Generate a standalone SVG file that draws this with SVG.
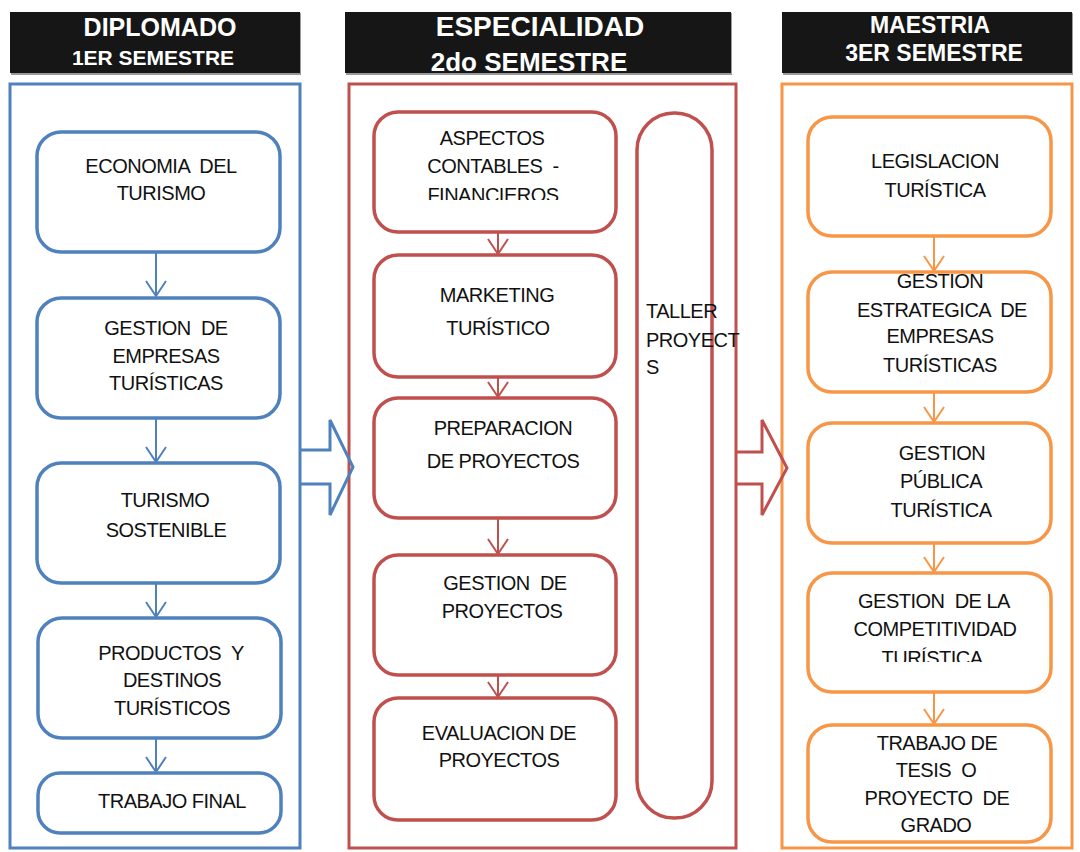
<svg xmlns="http://www.w3.org/2000/svg" width="1080" height="852" viewBox="0 0 1080 852">
<style>
.hdr{fill:#161616}
.hsh{fill:#9a9a9a}
.ht{fill:#fff;font-family:"Liberation Sans",Arial,sans-serif;font-weight:bold;text-anchor:middle}
.t{fill:#111;font-family:"Liberation Sans",Arial,sans-serif;font-size:20px;letter-spacing:-0.5px;text-anchor:middle;white-space:pre}
.tl{text-anchor:start}
.ob{fill:none;stroke-width:3}
.nd{fill:#fff;stroke-width:3.5}
.b{stroke:#4F81BD}
.r{stroke:#C0504D}
.o{stroke:#F79646}
.cn{fill:none;stroke-width:2}
.big{fill:none;stroke-width:3;stroke-linejoin:miter}
</style>
<defs>
<marker id="mb" viewBox="-16 -11 18 22" markerWidth="18" markerHeight="22" refX="0" refY="0" orient="auto" markerUnits="userSpaceOnUse"><path d="M-15,-10 L0,0 L-15,10" fill="none" stroke="#4F81BD" stroke-width="2"/></marker>
<marker id="mr" viewBox="-16 -11 18 22" markerWidth="18" markerHeight="22" refX="0" refY="0" orient="auto" markerUnits="userSpaceOnUse"><path d="M-15,-10 L0,0 L-15,10" fill="none" stroke="#C0504D" stroke-width="2"/></marker>
<marker id="mo" viewBox="-16 -11 18 22" markerWidth="18" markerHeight="22" refX="0" refY="0" orient="auto" markerUnits="userSpaceOnUse"><path d="M-15,-10 L0,0 L-15,10" fill="none" stroke="#F79646" stroke-width="2"/></marker>
<clipPath id="clipA"><rect x="380" y="100" width="230" height="100"/></clipPath>
<clipPath id="clipM4"><rect x="810" y="580" width="240" height="82"/></clipPath>
</defs>
<rect width="1080" height="852" fill="#fff"/>

<g id="headers">
<g id="h1"><rect class="hsh" x="11" y="13" width="290" height="62"/><rect class="hdr" x="10" y="12" width="290" height="61"/>
<text class="ht" x="160" y="36" font-size="25">DIPLOMADO</text><text class="ht" x="153" y="65" font-size="21">1ER SEMESTRE</text></g>
<g id="h2"><rect class="hsh" x="346" y="13" width="386" height="62"/><rect class="hdr" x="345" y="12" width="386" height="61"/>
<text class="ht" x="540" y="36" font-size="28">ESPECIALIDAD</text><text class="ht" x="529" y="71" font-size="26">2do SEMESTRE</text></g>
<g id="h3"><rect class="hsh" x="783" y="13" width="290" height="62"/><rect class="hdr" x="782" y="12" width="290" height="61"/>
<text class="ht" x="930" y="33" font-size="23">MAESTRIA</text><text class="ht" x="934" y="61" font-size="23">3ER SEMESTRE</text></g>
</g>

<g id="containers">
<rect class="ob b" x="10" y="84" width="290" height="764"/>
<rect class="ob r" x="349" y="84" width="387" height="764"/>
<rect class="ob o" x="782" y="84" width="290" height="764"/>
</g>

<g id="connectors">
<line class="cn b" x1="156" y1="252" x2="156" y2="296" marker-end="url(#mb)"/>
<line class="cn b" x1="156" y1="418" x2="156" y2="462" marker-end="url(#mb)"/>
<line class="cn b" x1="156" y1="583" x2="156" y2="617" marker-end="url(#mb)"/>
<line class="cn b" x1="156" y1="738" x2="156" y2="772" marker-end="url(#mb)"/>
<line class="cn r" x1="498" y1="232" x2="498" y2="254" marker-end="url(#mr)"/>
<line class="cn r" x1="498" y1="377" x2="498" y2="397" marker-end="url(#mr)"/>
<line class="cn r" x1="498" y1="518" x2="498" y2="554" marker-end="url(#mr)"/>
<line class="cn r" x1="498" y1="675" x2="498" y2="697" marker-end="url(#mr)"/>
<line class="cn o" x1="934" y1="236" x2="934" y2="271" marker-end="url(#mo)"/>
<line class="cn o" x1="934" y1="392" x2="934" y2="422" marker-end="url(#mo)"/>
<line class="cn o" x1="934" y1="543" x2="934" y2="572" marker-end="url(#mo)"/>
<line class="cn o" x1="934" y1="692" x2="934" y2="724" marker-end="url(#mo)"/>
<polyline class="big b" points="301,450 330,450 330,420 353,467 330,515 330,484 301,484"/>
<polyline class="big r" points="737,452 762,452 762,420 787,468 762,515 762,484 737,484"/>
</g>

<g id="n-economia"><rect class="nd b" x="37" y="132" width="243" height="120" rx="24"/>
<text class="t" x="161" y="173">ECONOMIA  DEL</text><text class="t" x="161" y="200">TURISMO</text></g>
<g id="n-gestion-empresas"><rect class="nd b" x="37" y="298" width="243" height="120" rx="24"/>
<text class="t" x="166" y="335">GESTION  DE</text><text class="t" x="166" y="363">EMPRESAS</text><text class="t" x="166" y="390">TURÍSTICAS</text></g>
<g id="n-turismo-sostenible"><rect class="nd b" x="37" y="463" width="243" height="120" rx="24"/>
<text class="t" x="165" y="507">TURISMO</text><text class="t" x="166" y="537">SOSTENIBLE</text></g>
<g id="n-productos"><rect class="nd b" x="38" y="618" width="243" height="120" rx="24"/>
<text class="t" x="171" y="660">PRODUCTOS  Y</text><text class="t" x="172" y="687">DESTINOS</text><text class="t" x="172" y="715">TURÍSTICOS</text></g>
<g id="n-trabajo-final"><rect class="nd b" x="38" y="773" width="243" height="60" rx="22"/>
<text class="t" x="172" y="808">TRABAJO FINAL</text></g>

<g id="n-aspectos"><rect class="nd r" x="374" y="112" width="242" height="120" rx="24"/>
<text class="t" x="492" y="145">ASPECTOS</text><text class="t" x="493" y="173">CONTABLES  -</text>
<text class="t" x="493" y="202" clip-path="url(#clipA)">FINANCIEROS</text></g>
<g id="n-marketing"><rect class="nd r" x="374" y="255" width="242" height="122" rx="24"/>
<text class="t" x="497" y="302">MARKETING</text><text class="t" x="498" y="335">TURÍSTICO</text></g>
<g id="n-preparacion"><rect class="nd r" x="374" y="398" width="242" height="120" rx="24"/>
<text class="t" x="503" y="435">PREPARACION</text><text class="t" x="503" y="468">DE PROYECTOS</text></g>
<g id="n-gestion-proyectos"><rect class="nd r" x="374" y="555" width="242" height="120" rx="24"/>
<text class="t" x="505" y="590">GESTION  DE</text><text class="t" x="502" y="618">PROYECTOS</text></g>
<g id="n-evaluacion"><rect class="nd r" x="374" y="698" width="242" height="122" rx="24"/>
<text class="t" x="499" y="740">EVALUACION DE</text><text class="t" x="499" y="767">PROYECTOS</text></g>
<g id="n-taller"><rect class="nd r" x="637" y="113" width="75" height="705" rx="37"/>
<text class="t tl" x="646" y="318">TALLER</text><text class="t tl" x="646" y="347">PROYECT</text><text class="t tl" x="646" y="374">S</text></g>

<g id="n-legislacion"><rect class="nd o" x="808" y="117" width="243" height="119" rx="24"/>
<text class="t" x="935" y="168">LEGISLACION</text><text class="t" x="935" y="197">TURÍSTICA</text></g>
<g id="n-gestion-estrategica"><rect class="nd o" x="808" y="272" width="243" height="120" rx="24"/>
<text class="t" x="940" y="288">GESTION</text><text class="t" x="942" y="317">ESTRATEGICA  DE</text><text class="t" x="940" y="343">EMPRESAS</text><text class="t" x="940" y="372">TURÍSTICAS</text></g>
<g id="n-gestion-publica"><rect class="nd o" x="808" y="423" width="243" height="120" rx="24"/>
<text class="t" x="942" y="460">GESTION</text><text class="t" x="941" y="488">PÚBLICA</text><text class="t" x="941" y="517">TURÍSTICA</text></g>
<g id="n-competitividad"><rect class="nd o" x="808" y="573" width="243" height="119" rx="24"/>
<text class="t" x="934" y="608">GESTION  DE LA</text><text class="t" x="935" y="636">COMPETITIVIDAD</text>
<text class="t" x="932" y="665" clip-path="url(#clipM4)">TURÍSTICA</text></g>
<g id="n-tesis"><rect class="nd o" x="808" y="725" width="243" height="117" rx="24"/>
<text class="t" x="937" y="750">TRABAJO DE</text><text class="t" x="936" y="777">TESIS  O</text><text class="t" x="937" y="805">PROYECTO  DE</text><text class="t" x="936" y="832">GRADO</text></g>
</svg>
